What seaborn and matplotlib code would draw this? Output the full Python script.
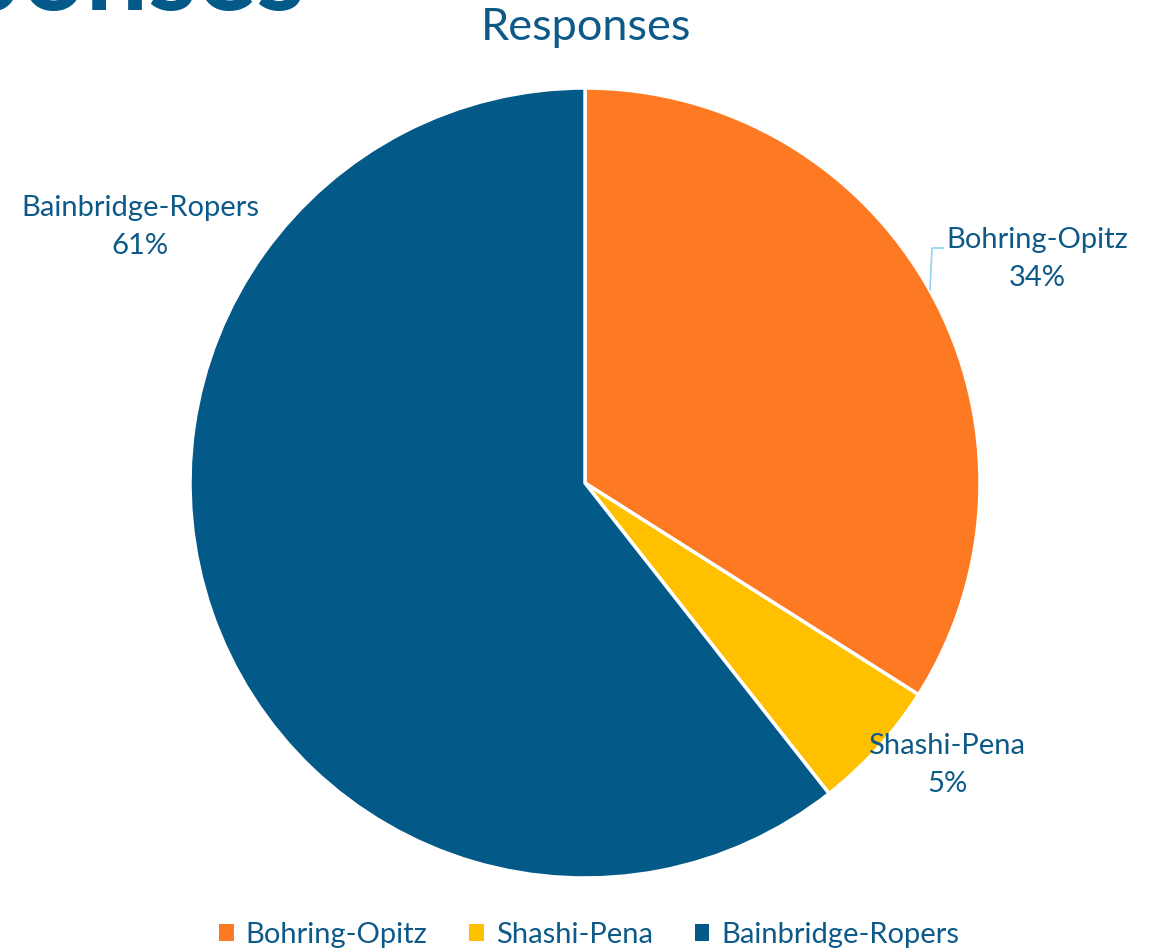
import matplotlib
matplotlib.use("Agg")
import matplotlib.pyplot as plt
import seaborn as sns
from matplotlib.patches import Patch

categories = ["Bohring-Opitz", "Shashi-Pena", "Bainbridge-Ropers"]
values = [34.0, 5.4, 60.6]
pct_labels = ["34%", "5%", "61%"]
colors = ["#FD7A22", "#FFC000", "#035A89"]
text_color = "#0D5A88"

sns.set_theme(style="white")
plt.rcParams['font.family'] = ['Lato', 'DejaVu Sans']

W, H = 1155, 949
fig = plt.figure(figsize=(W / 100, H / 100), dpi=100)
fig.patch.set_facecolor("white")

cx, cy, r = 585, 483, 395
ax = fig.add_axes([(cx - r) / W, (H - cy - r) / H, 2 * r / W, 2 * r / H])
wedges, _ = ax.pie(values, colors=colors, startangle=90, counterclock=False,
                   radius=1.0, wedgeprops=dict(edgecolor="white", linewidth=2.5))
ax.set_xlim(-1, 1)
ax.set_ylim(-1, 1)
ax.set_aspect("equal")
ax.axis("off")

def fx(px):
    return px / W

def fy(py):
    return 1 - py / H

fs = 21
label_pos = [(1037, 259), (947, 765), (140, 227)]
for cat, pct, (px, py) in zip(categories, pct_labels, label_pos):
    fig.text(fx(px), fy(py), f"{cat}\n{pct}", ha="center", va="center",
             fontsize=fs, color=text_color, linespacing=1.55)

# leader line for Bohring-Opitz
fig.add_artist(plt.Line2D([fx(930), fx(932), fx(943)], [fy(290), fy(248), fy(248)],
                          color="#8FD3F5", linewidth=1.2, transform=fig.transFigure))

# chart title
fig.text(fx(586), fy(27), "Responses", ha="center", va="center",
         fontsize=32.5, color=text_color)

# cut-off slide title at top-left
fig.text(fx(305), fy(10), "Responses", ha="right", va="baseline",
         fontsize=80, fontweight="bold", color="#035A89")

handles = [Patch(facecolor=c, edgecolor="none") for c in colors]
fig.legend(handles, categories, loc="center", bbox_to_anchor=(0.51, fy(935)),
           ncol=3, frameon=False, fontsize=fs, handlelength=0.5, handleheight=0.5,
           handletextpad=0.4, columnspacing=1.45, labelcolor=text_color)

fig.savefig("out.png", dpi=100, facecolor="white")
